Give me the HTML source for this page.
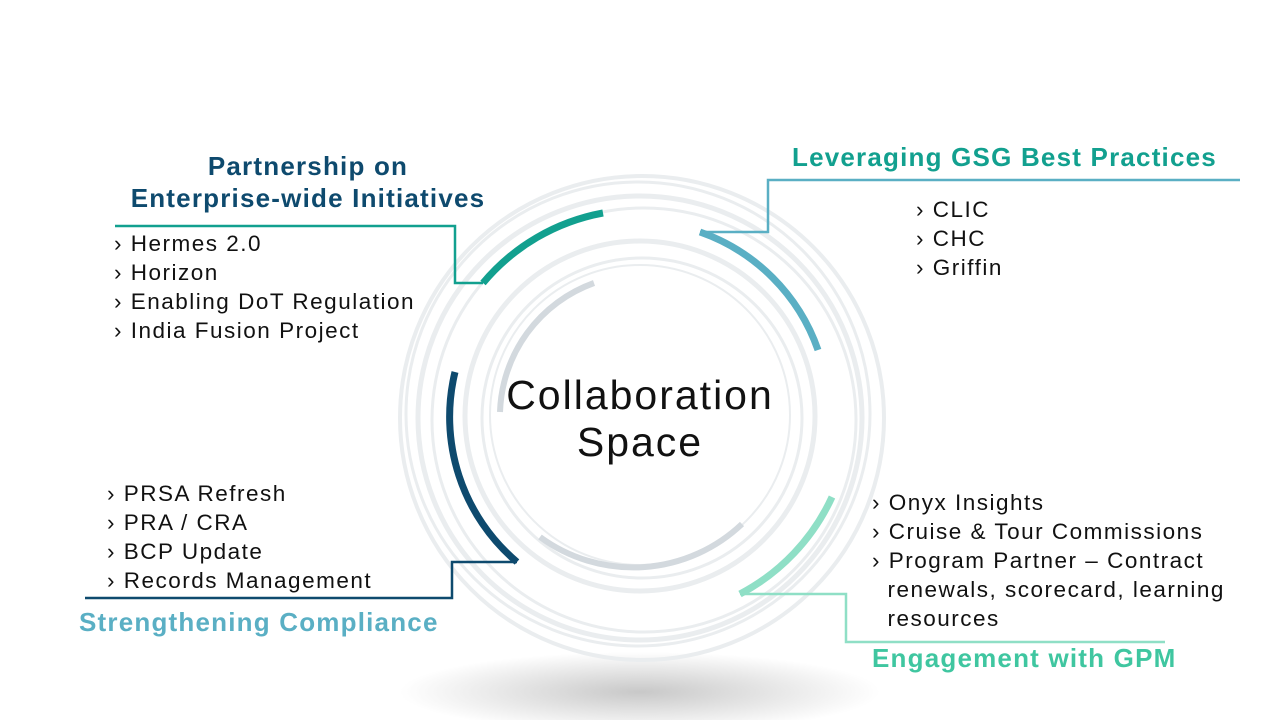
<!DOCTYPE html>
<html><head><meta charset="utf-8"><style>
body{margin:0;width:1280px;height:720px;background:#fff;overflow:hidden;position:relative;font-family:"Liberation Sans",sans-serif}
.t{position:absolute;white-space:nowrap}
.h{font-weight:bold;font-size:26px;letter-spacing:1.2px}
.b{font-size:22.5px;line-height:29px;color:#111;letter-spacing:1.5px}
</style></head><body>
<svg width="1280" height="720" style="position:absolute;left:0;top:0">
<defs><radialGradient id="sh" cx="0.5" cy="0.5" r="0.5"><stop offset="0" stop-color="#c8c8c8"/><stop offset="1" stop-color="#fff"/></radialGradient></defs>
<ellipse cx="640" cy="692" rx="240" ry="40" fill="url(#sh)"/>
<g fill="none" stroke="#eaedef">
<circle cx="642" cy="418" r="242" stroke-width="4"/>
<circle cx="638" cy="414" r="232" stroke-width="3"/>
<circle cx="640" cy="418" r="222" stroke-width="5"/>
<circle cx="644" cy="420" r="212" stroke-width="3"/>
<circle cx="640" cy="416" r="175" stroke-width="5"/>
<circle cx="642" cy="418" r="160" stroke-width="3"/>
<circle cx="640" cy="415" r="150" stroke-width="2"/>
</g>
<g fill="none" stroke="#d3d9de" stroke-width="6">
<path d="M500 412 A142 142 0 0 1 594 283"/>
<path d="M540 537 A158 158 0 0 0 742 524"/>
</g>
<g fill="none" stroke-width="7">
<path d="M483 283 A205 205 0 0 1 603 213" stroke="#12a08f"/>
<path d="M700 232 A192 192 0 0 1 818 350" stroke="#5aafc4"/>
<path d="M455 372 A190 190 0 0 0 517 562" stroke="#0e4a6e"/>
<path d="M832 497 A207 207 0 0 1 740 594" stroke="#8fdfc6"/>
</g>
<g fill="none" stroke-width="2.5">
<polyline points="483,283 455,283 455,226 115,226" stroke="#12a08f"/>
<polyline points="700,232 768,232 768,180 1240,180" stroke="#5aafc4"/>
<polyline points="517,562 452,562 452,598 85,598" stroke="#0e4a6e"/>
<polyline points="740,594 846,594 846,642 1165,642" stroke="#8fdfc6"/>
</g>
</svg>
<div class="t h" style="left:120px;top:150px;width:376px;text-align:center;color:#0e4a6e;line-height:32px">Partnership on<br>Enterprise-wide Initiatives</div>
<div class="t b" style="left:114px;top:229px">› Hermes 2.0<br>› Horizon<br>› Enabling DoT Regulation<br>› India Fusion Project</div>
<div class="t h" style="left:792px;top:142px;color:#12a08f">Leveraging GSG Best Practices</div>
<div class="t b" style="left:916px;top:195px">› CLIC<br>› CHC<br>› Griffin</div>
<div class="t b" style="left:107px;top:479px">› PRSA Refresh<br>› PRA / CRA<br>› BCP Update<br>› Records Management</div>
<div class="t h" style="left:79px;top:607px;color:#5aafc4">Strengthening Compliance</div>
<div class="t b" style="left:872px;top:488px">› Onyx Insights<br>› Cruise &amp; Tour Commissions<br>› Program Partner – Contract<br>&nbsp;&nbsp;renewals, scorecard, learning<br>&nbsp;&nbsp;resources</div>
<div class="t h" style="left:872px;top:643px;color:#3fc6a0">Engagement with GPM</div>
<div class="t" style="left:480px;top:372px;width:320px;text-align:center;font-size:41px;line-height:47px;color:#111;letter-spacing:2px">Collaboration<br>Space</div>
</body></html>
